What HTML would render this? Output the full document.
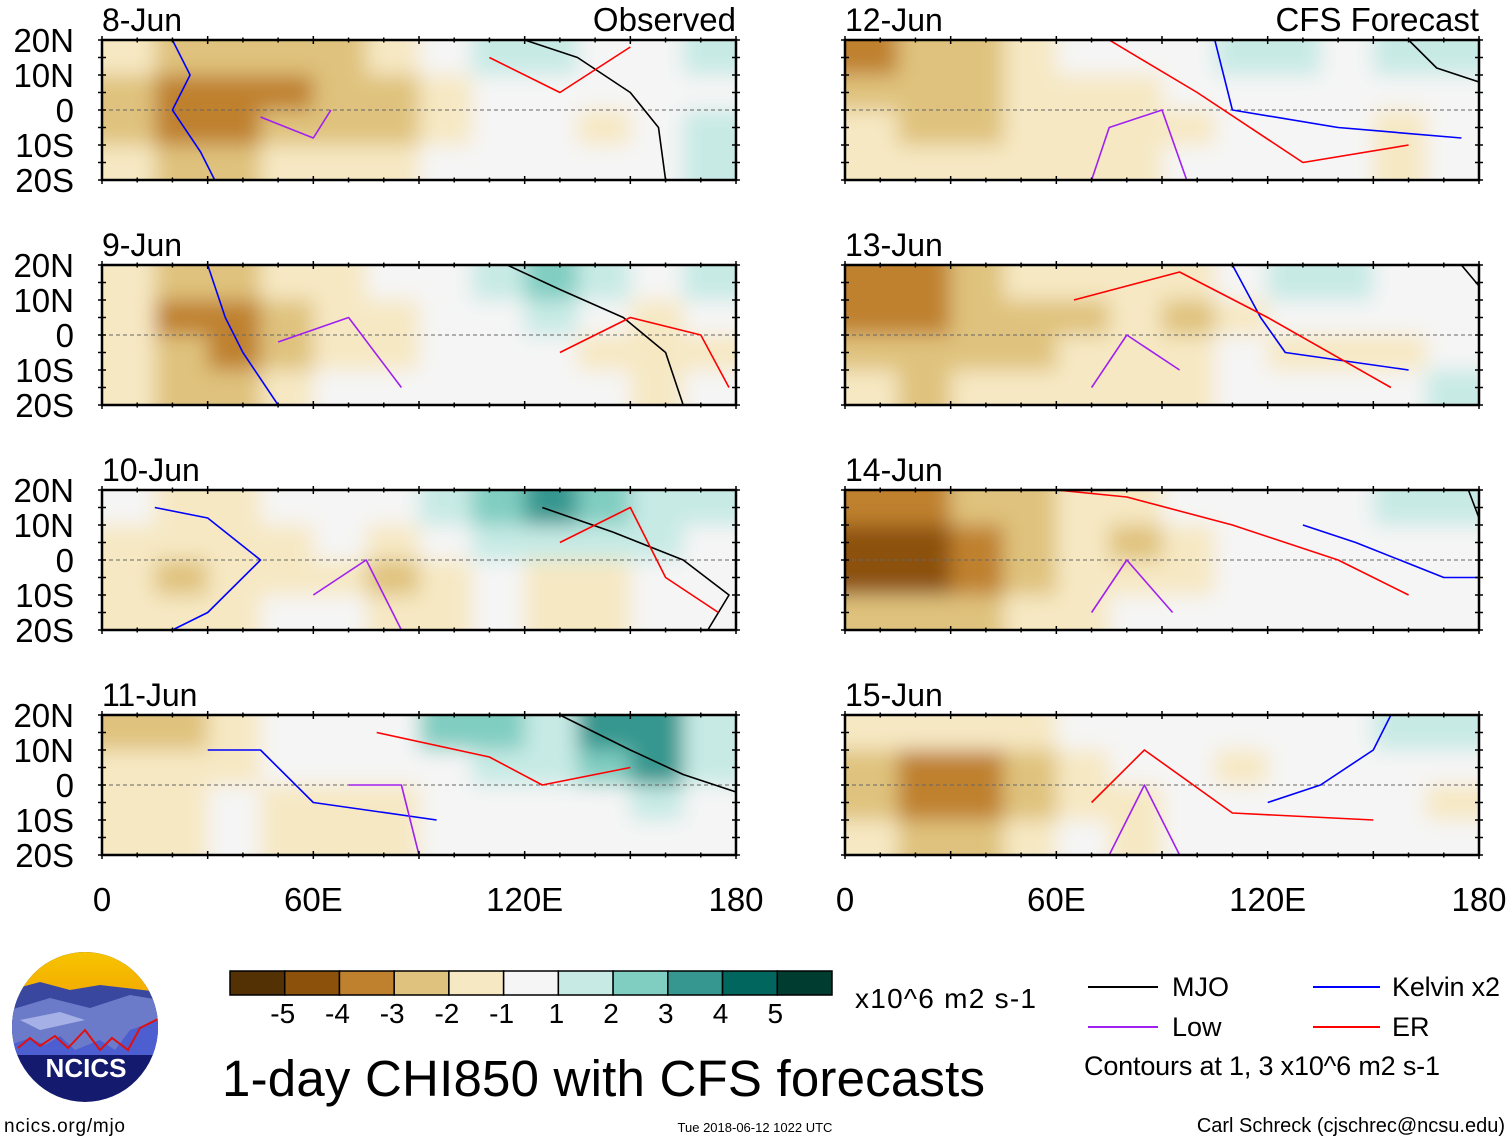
<!DOCTYPE html>
<html><head><meta charset="utf-8">
<style>
html,body{margin:0;padding:0;background:#fff;}
svg{display:block;font-family:"Liberation Sans",Arial,sans-serif;}
</style></head>
<body>
<svg id="root" width="1510" height="1142" viewBox="0 0 1510 1142" xmlns="http://www.w3.org/2000/svg">
<defs>
<filter id="blur" x="-10%" y="-30%" width="120%" height="160%"><feGaussianBlur stdDeviation="10"/></filter>
<linearGradient id="sky" x1="0" y1="0" x2="0" y2="1"><stop offset="0" stop-color="#f7c600"/><stop offset="1" stop-color="#f3a800"/></linearGradient>
</defs>
<g id="panels"></g>
<g id="axes-text" font-size="32" fill="#000"></g>

<g id="colorbar"></g>
<text x="855" y="1008" font-size="28" textLength="181">x10^6 m2 s-1</text>

<g font-size="27">
<line x1="1088" y1="987" x2="1158" y2="987" stroke="#000" stroke-width="2"/>
<text x="1172" y="996">MJO</text>
<line x1="1313" y1="987" x2="1380" y2="987" stroke="#0000ff" stroke-width="2"/>
<text x="1392" y="996" textLength="108">Kelvin x2</text>
<line x1="1088" y1="1027" x2="1158" y2="1027" stroke="#a020f0" stroke-width="2"/>
<text x="1172" y="1036">Low</text>
<line x1="1313" y1="1027" x2="1380" y2="1027" stroke="#ff0000" stroke-width="2"/>
<text x="1392" y="1036">ER</text>
<text x="1084" y="1075" textLength="356">Contours at 1, 3 x10^6 m2 s-1</text>
</g>

<text x="222" y="1096" font-size="51" textLength="763">1-day CHI850 with CFS forecasts</text>

<g>
<clipPath id="lc"><ellipse cx="85" cy="1027" rx="73" ry="75"/></clipPath>
<g clip-path="url(#lc)">
<rect x="10" y="950" width="150" height="160" fill="#141a6e"/>
<rect x="10" y="950" width="150" height="50" fill="url(#sky)"/>
<path d="M10 990 L40 982 L70 990 L100 985 L160 992 L160 1040 L10 1040Z" fill="#39479f"/>
<path d="M10 1010 L50 998 L90 1008 L130 995 L160 1000 L160 1050 L10 1050Z" fill="#6c7bc9"/>
<path d="M20 1020 L60 1012 L85 1020 L40 1030Z" fill="#a5b0e6"/>
<path d="M10 1045 L30 1038 L45 1045 L60 1036 L75 1050 L100 1040 L115 1050 L130 1030 L160 1020 L160 1055 L10 1055Z" fill="#4d5ed0"/>
<polyline points="18,1048 30,1038 40,1046 55,1036 68,1048 85,1030 100,1050 112,1038 128,1050 140,1028 160,1018" fill="none" stroke="#e01010" stroke-width="2"/>
</g>
<text x="86" y="1077" font-size="26" font-weight="bold" fill="#fff" text-anchor="middle">NCICS</text>
</g>
<text x="4" y="1132" font-size="19" textLength="121">ncics.org/mjo</text>
<text x="755" y="1132" font-size="13" text-anchor="middle">Tue 2018-06-12 1022 UTC</text>
<text x="1505" y="1132" font-size="20" text-anchor="end">Carl Schreck (cjschrec@ncsu.edu)</text>
</svg>

<script>
// ---- data ----
const dates = ["8-Jun","9-Jun","10-Jun","11-Jun","12-Jun","13-Jun","14-Jun","15-Jun"];
const lonTicks = [0,60,120,180];
const lonTickLabels = ["0","60E","120E","180"];
const latTicks = [20,10,0,-10,-20];
const latTickLabels = ["20N","10N","0","10S","20S"];
const cbLevels = ["-5","-4","-3","-2","-1","1","2","3","4","5"];
const cbColors = ["#543005","#8c510a","#bf812d","#dfc27d","#f6e8c3","#f5f5f5","#c7eae5","#80cdc1","#35978f","#01665e","#003c30"];
// anomaly grid: rows 20N-10N,10N-0,0-10S,10S-20S ; cols every 15deg lon
const field8 = [[-1,-2,-2,-2,-2,-1,0,1,1,0,0,1],[-2,-3,-3,-3,-2,-2,-1,0,0,0,0,0],[-2,-3,-3,-2,-2,-2,-1,0,0,-1,0,1],[-1,-2,-2,-1,-1,-1,0,0,0,0,0,1]];
const field9 = [[-1,-2,-2,-1,-1,0,0,1,2,1,0,1],[-1,-3,-3,-2,-1,-1,0,0,1,0,-1,0],[-1,-2,-3,-2,-1,-1,0,0,0,-1,-1,-1],[-1,-2,-2,-1,0,0,0,0,0,0,-1,0]];
const field10 = [[0,-1,-1,0,0,0,1,2,3,2,1,1],[-1,-1,-1,-1,0,-1,0,1,1,1,1,0],[-1,-2,-1,-1,-1,-2,-1,0,-1,-1,0,0],[-1,-1,-1,0,0,-1,-1,0,-1,-1,0,0]];
const field11 = [[-2,-2,-1,0,0,0,2,2,1,3,3,1],[-1,-1,-1,0,0,0,0,1,1,2,3,1],[-1,-1,0,-1,-1,-1,0,0,0,0,1,0],[-1,-1,0,-1,-1,-1,0,0,0,0,0,0]];
const field12 = [[-3,-2,-2,-1,0,0,0,1,1,0,1,1],[-2,-2,-2,-1,-1,-1,0,0,0,0,0,0],[-1,-2,-2,-1,-1,-1,-1,0,0,0,-1,0],[-1,-1,-1,-1,-1,-1,0,0,0,0,-1,0]];
const field13 = [[-3,-3,-2,-1,-1,-1,-1,0,1,1,0,0],[-3,-3,-2,-2,-2,-1,-2,-1,0,0,0,0],[-2,-2,-2,-2,-1,-1,-1,0,-1,-1,-1,0],[-1,-2,-1,-1,-1,-1,-1,0,0,0,0,1]];
const field14 = [[-3,-3,-2,-2,-1,-1,0,0,0,0,1,1],[-4,-4,-3,-2,-1,-2,-1,0,0,0,0,0],[-4,-4,-3,-2,-1,-1,-1,0,0,0,0,0],[-2,-2,-2,-1,-1,0,0,0,0,0,0,0]];
const field15 = [[-1,-1,-1,-1,0,0,0,0,0,0,1,1],[-2,-3,-3,-2,-1,0,0,-1,0,0,0,0],[-2,-3,-3,-2,-1,-1,0,0,0,0,0,-1],[-1,-2,-2,-1,0,-1,0,0,0,0,0,0]];
const fields = [field8,field9,field10,field11,field12,field13,field14,field15];
// contours [lon,lat]
const mjoLines = [[[120,20],[135,15],[150,5],[158,-5],[160,-20]],[[115,20],[130,13],[148,5],[160,-5],[165,-20]],[[125,15],[145,8],[165,0],[178,-10],[172,-20]],[[130,20],[150,10],[165,3],[180,-2]],[[160,20],[168,12],[180,8]],[[175,20],[180,14]],[[177,20],[180,12]],[]];
const kelvinLines = [[[20,20],[25,10],[20,0],[28,-12],[32,-20]],[[30,20],[35,5],[40,-5],[50,-20]],[[15,15],[30,12],[45,0],[30,-15],[20,-20]],[[30,10],[45,10],[60,-5],[95,-10]],[[105,20],[110,0],[140,-5],[175,-8]],[[110,20],[118,5],[125,-5],[160,-10]],[[130,10],[145,5],[170,-5],[180,-5]],[[120,-5],[135,0],[150,10],[155,20]]];
const erLines = [[[110,15],[130,5],[150,18]],[[130,-5],[150,5],[170,0],[178,-15]],[[130,5],[150,15],[160,-5],[175,-15]],[[78,15],[110,8],[125,0],[150,5]],[[75,20],[100,5],[130,-15],[160,-10]],[[65,10],[95,18],[120,5],[155,-15]],[[60,20],[80,18],[110,10],[140,0],[160,-10]],[[70,-5],[85,10],[110,-8],[150,-10]]];
const lowLines = [[[45,-2],[60,-8],[65,0]],[[50,-2],[70,5],[85,-15]],[[60,-10],[75,0],[85,-20]],[[70,0],[85,0],[90,-20]],[[70,-20],[75,-5],[90,0],[97,-20]],[[70,-15],[80,0],[95,-10]],[[70,-15],[80,0],[93,-15]],[[75,-20],[85,0],[95,-20]]];
// ---- drawing ----
const NS="http://www.w3.org/2000/svg";
const root=document.getElementById('panels');
const axt=document.getElementById('axes-text');
const colX=[102,845], rowY=[40,265,490,715], PW=634, PH=140;
function mk(t,a,p){const e=document.createElementNS(NS,t);for(const k in a)e.setAttribute(k,a[k]);(p||root).appendChild(e);return e;}
function colorOf(v){return cbColors[Math.max(0,Math.min(10,Math.round(v)+5))];}
dates.forEach((d,i)=>{
  const c=i<4?0:1, r=i%4, x0=colX[c], y0=rowY[r];
  const xs=lon=>x0+lon/180*PW, ys=lat=>y0+(20-lat)/40*PH;
  const g=mk('g',{});
  
  
  const cid='clip'+i;
  const cp=mk('clipPath',{id:cid},g); mk('rect',{x:x0,y:y0,width:PW,height:PH},cp);
  const fg=mk('g',{'clip-path':'url(#'+cid+')'},g);
  mk('rect',{x:x0,y:y0,width:PW,height:PH,fill:'#f5f5f5'},fg);
  const bg=mk('g',{filter:'url(#blur)'},fg);
  const f=fields[i], cw=PW/12, ch=PH/4;
  f.forEach((row,ri)=>row.forEach((v,ci)=>{
    let x=xs(ci*15), y=ys(20-ri*10), w=cw+0.5, h=ch+0.5;
    if(ci==0){x-=25;w+=25;} if(ci==11){w+=25;} if(ri==0){y-=25;h+=25;} if(ri==3){h+=25;}
    const cell=mk('rect',{x:x,y:y,width:w,height:h,fill:colorOf(v)},bg);
    
    
  }));
  mk('line',{x1:x0,x2:x0+PW,y1:ys(0),y2:ys(0),stroke:'#666','stroke-dasharray':'4,3','stroke-width':1},fg);
  const lines=[[mjoLines[i],'#000'],[kelvinLines[i],'#0000ff'],[erLines[i],'#ff0000'],[lowLines[i],'#a020f0']];
  lines.forEach(([pts,col])=>{ if(!pts.length)return;
    let dd='M'+pts.map(p=>xs(p[0]).toFixed(1)+' '+ys(p[1]).toFixed(1)).join(' L');
    const pl=mk('path',{d:dd,fill:'none',stroke:col,'stroke-width':1.6,'stroke-linejoin':'round'},fg);
    
    
  });
  const fr=mk('rect',{x:x0,y:y0,width:PW,height:PH,fill:'none',stroke:'#000','stroke-width':2.5},g);
  
  
  for(let lon=0;lon<=180;lon+=10){const L=lon%30==0?8:5;
    mk('line',{x1:xs(lon),x2:xs(lon),y1:y0-L/2,y2:y0+L/2,stroke:'#000','stroke-width':1.5},g);
    mk('line',{x1:xs(lon),x2:xs(lon),y1:y0+PH-L/2,y2:y0+PH+L/2,stroke:'#000','stroke-width':1.5},g);}
  for(let lat=-20;lat<=20;lat+=5){
    mk('line',{x1:x0-4,x2:x0+4,y1:ys(lat),y2:ys(lat),stroke:'#000','stroke-width':1.5},g);
    mk('line',{x1:x0+PW-4,x2:x0+PW+4,y1:ys(lat),y2:ys(lat),stroke:'#000','stroke-width':1.5},g);}
  const t=mk('text',{x:x0,y:y0-9,'font-size':32},axt); t.textContent=d;
  
  
  if(r==0){const tt=mk('text',{x:x0+PW,y:y0-9,'font-size':33,'text-anchor':'end'},axt); tt.textContent=c==0?'Observed':'CFS Forecast';
    
    }
  if(c==0){latTicks.forEach((lat,k)=>{const lt=mk('text',{x:74,y:ys(lat)+12,'text-anchor':'end','font-size':33},axt); lt.textContent=latTickLabels[k];
    
    });}
  if(r==3){lonTicks.forEach((lon,k)=>{const lt=mk('text',{x:xs(lon),y:911,'text-anchor':'middle','font-size':33},axt); lt.textContent=lonTickLabels[k];
    
    });}
});
// colorbar
const cb=document.getElementById('colorbar');
const cbx=230, cbw=(832-230)/11;
cbColors.forEach((col,k)=>{const b=mk('rect',{x:cbx+k*cbw,y:971,width:cbw,height:24,fill:col,stroke:'#000','stroke-width':1.5},cb);
  
  });
cbLevels.forEach((lv,k)=>{const t=mk('text',{x:cbx+(k+1)*cbw-2,y:1023,'text-anchor':'middle','font-size':28},cb); t.textContent=lv;
  
  });
</script>
</body></html>
